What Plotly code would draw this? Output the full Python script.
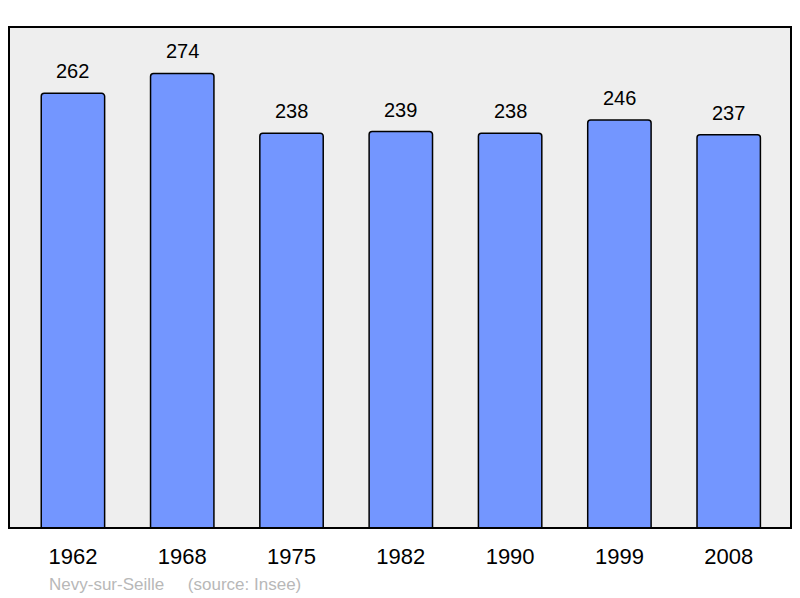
import plotly.graph_objects as go

years = ["1962", "1968", "1975", "1982", "1990", "1999", "2008"]
population = [262, 274, 238, 239, 238, 246, 237]

fig = go.Figure()
fig.add_trace(go.Bar(
    x=list(range(len(years))), y=population,
    width=0.58,
    marker=dict(color="#7396ff", line=dict(color="#000000", width=1.5), cornerradius=3),
    hoverinfo="skip",
))

for i, v in enumerate(population):
    fig.add_annotation(x=i, y=v, text=str(v), showarrow=False, yanchor="bottom", yshift=9,
                       font=dict(family="Liberation Sans", size=20, color="#000000"))

fig.add_annotation(x=0.049, y=-0.112, xref="paper", yref="paper", xanchor="left", yanchor="middle",
                   text="Nevy-sur-Seille&nbsp;&nbsp;&nbsp;&nbsp;&nbsp;(source: Insee)", showarrow=False,
                   font=dict(family="Liberation Sans", size=17, color="#b8b8b8"))

fig.add_shape(type="rect", xref="paper", yref="paper", x0=0, x1=1, y0=0, y1=1,
              line=dict(color="#000000", width=2), layer="above")

fig.update_layout(
    width=784, height=588,
    margin=dict(l=1, r=1, t=19, b=68),
    paper_bgcolor="#ffffff", plot_bgcolor="#eeeeee",
    showlegend=False,
    xaxis=dict(range=[-0.585, 6.57], tickmode="array", tickvals=list(range(len(years))), ticktext=years,
               showgrid=False, zeroline=False, ticks="outside", ticklen=9, tickcolor="rgba(0,0,0,0)",
               tickfont=dict(family="Liberation Sans", size=22, color="#000000")),
    yaxis=dict(range=[0, 302], showgrid=False, zeroline=False, showticklabels=False),
)

fig.write_html("out.html")
